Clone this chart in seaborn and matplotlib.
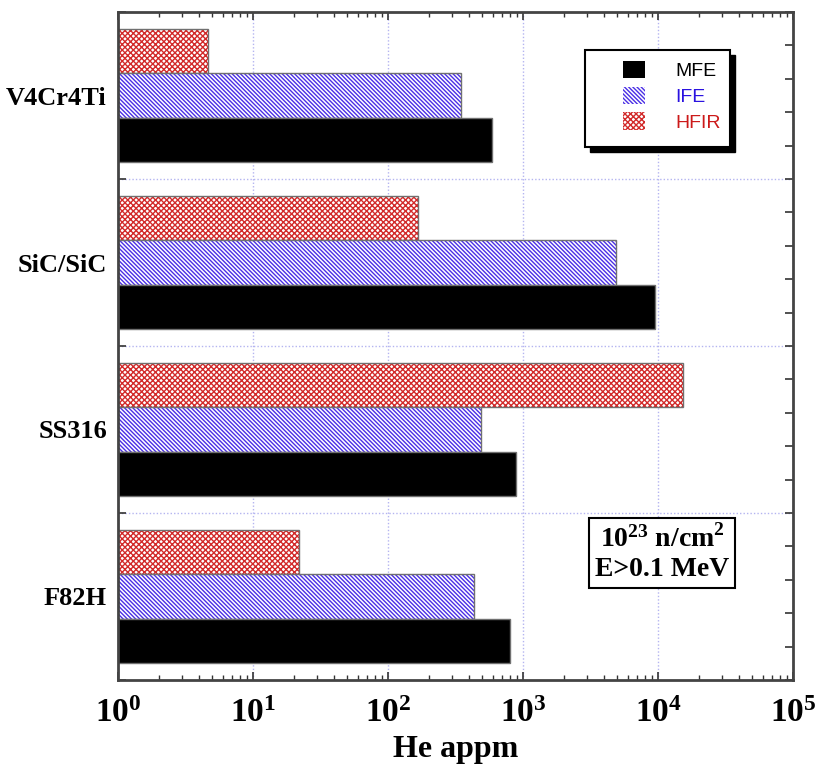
import matplotlib
matplotlib.use("Agg")
import numpy as np
import pandas as pd
import seaborn as sns
import matplotlib.pyplot as plt
import matplotlib.colors as mcolors
from matplotlib.patches import Patch, Rectangle
from matplotlib.ticker import FixedLocator, LogLocator, LogFormatterMathtext, NullFormatter

# ---- data ----
materials = ["V4Cr4Ti", "SiC/SiC", "SS316", "F82H"]
mfe = [590, 9500, 890, 800]
ife = [350, 4900, 490, 435]
hfir = [4.6, 167, 15300, 22]
series_order = ["HFIR", "IFE", "MFE"]       # top -> bottom inside each group
legend_order = ["MFE", "IFE", "HFIR"]
face_colors = {"MFE": "black", "IFE": "white", "HFIR": "white"}
hatch_colors = {"MFE": "black", "IFE": "#4a2ee6", "HFIR": "#d22a2a"}
hatches = {"MFE": None, "IFE": "\\" * 8, "HFIR": "x" * 6}
text_colors = {"MFE": "black", "IFE": "#2a12e0", "HFIR": "#cc1a1a"}

df = pd.DataFrame({
    "material": materials * 3,
    "source": ["MFE"] * 4 + ["IFE"] * 4 + ["HFIR"] * 4,
    "appm": mfe + ife + hfir,
})

sns.set_theme(style="white")
plt.rcParams["font.family"] = ["Liberation Serif", "DejaVu Serif"]
plt.rcParams["hatch.linewidth"] = 1.0

fig = plt.figure(figsize=(8.18, 7.7), dpi=100)
ax = fig.add_axes([0.1443, 0.1169, 0.8252, 0.8675])

sns.barplot(data=df, y="material", x="appm", hue="source", order=materials,
            hue_order=series_order, orient="h", width=0.8, gap=0,
            palette=face_colors, saturation=1, errorbar=None, legend=False,
            edgecolor="#707070", linewidth=1.0, ax=ax, zorder=2)

for cont, name in zip(ax.containers, series_order):
    for p in cont:
        if hatches[name]:
            p.set_hatch(hatches[name])
            if hasattr(p, "set_hatchcolor"):
                p.set_hatchcolor(hatch_colors[name])
            else:
                p._hatch_color = mcolors.to_rgba(hatch_colors[name])
            p.stale = True

ax.set_xscale("log")
ax.set_xlim(1, 1e5)
n = len(materials)
ax.set_ylim(n - 0.5, -0.5)

# grid
ax.set_axisbelow(True)
ax.xaxis.grid(True, which="major", color="#b4b4f0", linestyle=(0, (1, 1.5)), linewidth=1.0)
for b in np.arange(0.5, n - 0.5, 1.0):
    ax.axhline(b, color="#b4b4f0", linestyle=(0, (1, 1.5)), linewidth=1.0, zorder=0.5)

# ticks
ax.xaxis.set_major_locator(LogLocator(base=10, numticks=10))
ax.xaxis.set_minor_locator(LogLocator(base=10, subs=np.arange(2, 10), numticks=20))
ax.xaxis.set_major_formatter(LogFormatterMathtext())
ax.xaxis.set_minor_formatter(NullFormatter())
ax.set_yticks(range(n))
ax.set_yticklabels(materials)
ax.yaxis.set_minor_locator(FixedLocator(np.arange(-0.5, n - 0.5 + 1e-9, 0.2)))

ax.tick_params(axis="x", which="major", direction="in", length=6, width=1.2,
               color="#333333", top=True, bottom=True, pad=13, labelsize=24)
ax.tick_params(axis="x", which="minor", direction="in", length=3.5, width=1.0,
               color="#333333", top=True, bottom=True)
ax.tick_params(axis="y", which="major", length=0, pad=8, labelsize=19)
ax.tick_params(axis="y", which="minor", direction="in", length=5.5, width=1.2,
               color="#333333", left=True, right=True)
for lab in ax.get_xticklabels() + ax.get_yticklabels():
    lab.set_fontweight("bold")
    lab.set_color("black")

for s in ax.spines.values():
    s.set_visible(True)
    s.set_color("#444444")
    s.set_linewidth(2)

ax.set_ylabel("")
ax.set_xlabel("He appm", fontsize=23, fontweight="bold", color="black", labelpad=4)

# legend box with drop shadow
def ax_x(px):
    return (px - 118) / 675.0

def ax_y(py):
    return (680 - py) / 668.0

bx0, bx1, by0, by1 = ax_x(585), ax_x(730), ax_y(147), ax_y(50)
ax.add_patch(Rectangle((bx0 + 5 / 675.0, by0 - 5 / 668.0), bx1 - bx0, by1 - by0,
                       transform=ax.transAxes, facecolor="black", edgecolor="black",
                       zorder=5, clip_on=False))
ax.add_patch(Rectangle((bx0, by0), bx1 - bx0, by1 - by0, transform=ax.transAxes,
                       facecolor="white", edgecolor="black", linewidth=1.5,
                       zorder=6, clip_on=False))

handles = []
for name in legend_order:
    if hatches[name]:
        handles.append(Patch(facecolor="white", edgecolor=hatch_colors[name],
                             linewidth=0, hatch=hatches[name]))
    else:
        handles.append(Patch(facecolor="black", edgecolor="black", linewidth=0))
leg = ax.legend(handles, legend_order, loc="upper left",
                bbox_to_anchor=(ax_x(623), ax_y(61)), bbox_transform=ax.transAxes,
                frameon=False, borderpad=0, borderaxespad=0,
                handlelength=1.15, handleheight=1.0, handletextpad=1.55,
                labelspacing=0.32,
                prop={"family": ["Liberation Sans", "DejaVu Sans"], "size": 14})
leg.set_zorder(7)
for t, name in zip(leg.get_texts(), legend_order):
    t.set_color(text_colors[name])

# annotation box
ax.text(ax_x(662), ax_y(553),
        "$\\mathdefault{10^{23}}$ n/cm$^{\\mathdefault{2}}$\nE>0.1 MeV",
        transform=ax.transAxes, ha="center", va="center", multialignment="center",
        fontsize=20, fontweight="bold", color="black", linespacing=1.2, zorder=8,
        bbox=dict(boxstyle="square,pad=0.22", facecolor="white", edgecolor="black",
                  linewidth=1.5))

fig.savefig("out.png", dpi=100, facecolor="white")
